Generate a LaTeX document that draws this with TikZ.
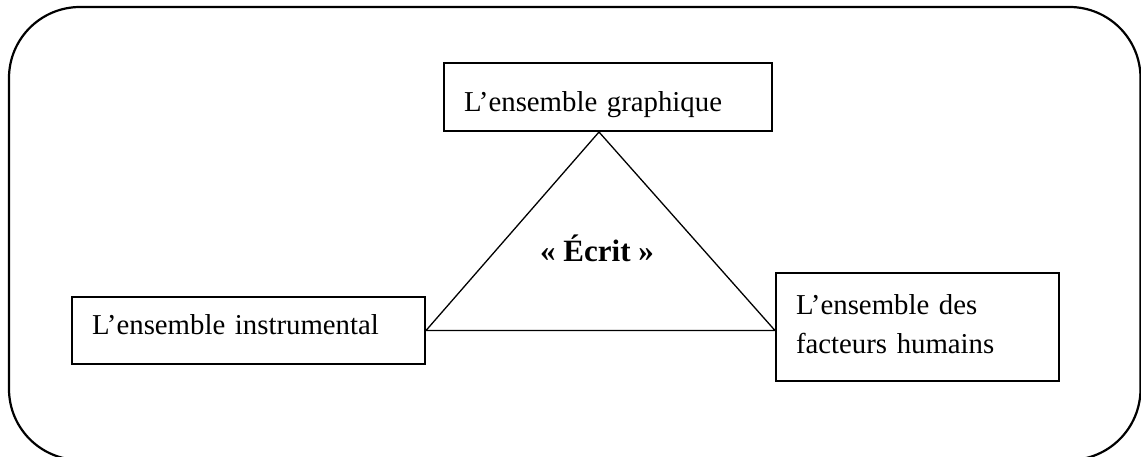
\documentclass[tikz,border=0pt]{standalone}
\usepackage{fontspec}
\setmainfont{Liberation Serif}
\usepackage{tikz}
\usetikzlibrary{shapes,calc,positioning}
\tikzstyle{ensemble} = [rectangle, draw, line width=1pt, align=left, inner xsep=10pt,
inner ysep=0pt, anchor=north west, font=\fontsize{14.4pt}{19.5pt}\selectfont]
\tikzstyle{line} =[draw, line width=0.65pt]
\tikzstyle{cadre} =[draw, line width=1.1pt, rounded corners=35.5pt]

\begin{document}
\begin{tikzpicture}[x=0.5pt, y=-0.5pt]

\path [use as bounding box, clip] (0,0) rectangle (1141,456);
\path [cadre] (9,7) rectangle (1140.5,460);

\node [ensemble, text width=144pt, text height=24pt, text depth=10pt] (graphique) at (443,62) {L’ensemble graphique};
\node [ensemble, text width=156.5pt, text height=18.5pt, text depth=15pt] (instrumental) at (71,296) {L’ensemble instrumental};
\node [ensemble, text width=121.5pt, text height=20.5pt, text depth=33.5pt] (humains) at (775,272) {L’ensemble des\\facteurs humains};
\node [font=\fontsize{15.5pt}{18pt}\selectfont\bfseries] (ecrit) at (597,248) {« Écrit »};
\coordinate (apex) at ([xshift=-4.5pt]graphique.south);
\coordinate (base right) at (instrumental.east -| humains.west);
\path [line] (apex) -- (instrumental.east) -- (base right) -- cycle;
\end{tikzpicture}
\end{document}
